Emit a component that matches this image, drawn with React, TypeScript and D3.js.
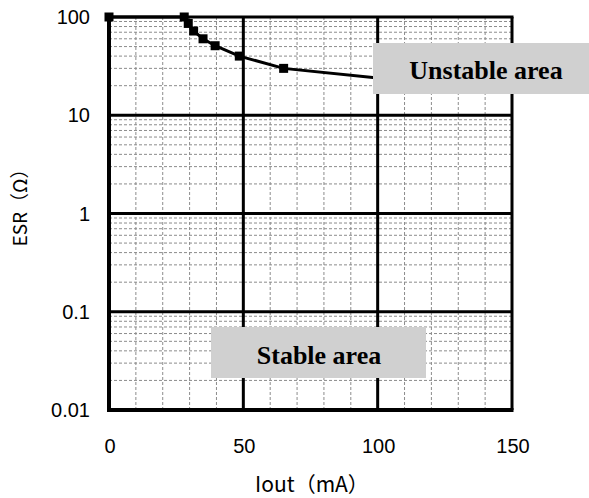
import React from "react";
import * as d3 from "d3";

const iout = [0, 28, 29.5, 31.5, 35, 39.5, 48.5, 65, 100];
const esr = [100, 100, 86, 72, 60, 51, 40, 30, 24];
const xTicks = [0, 50, 100, 150];
const yTicks = [100, 10, 1, 0.1, 0.01];
const yTickLabels = ["100", "10", "1", "0.1", "0.01"];
const xTitle = "Iout（mA）";
const yTitle = "ESR（Ω）";
const unstableLabel = "Unstable area";
const stableLabel = "Stable area";

const W = 589;
const H = 498;
const L = 109, R = 512, T = 17, B = 410;

export default function App() {
  const x = d3.scaleLinear().domain([0, 150]).range([L, R]);
  const y = d3.scaleLog().domain([0.01, 100]).range([B, T]);

  const minorX = d3.range(10, 150, 10).filter((v) => v % 50 !== 0);
  const minorY: number[] = [];
  for (let e = -2; e < 2; e++) {
    for (let k = 2; k <= 9; k++) minorY.push(k * Math.pow(10, e));
  }
  const line = d3
    .line<number>()
    .x((_, i) => x(iout[i]))
    .y((d) => y(d));

  const sans = "'Liberation Sans', Arial, sans-serif";
  const cjk = "'Noto Sans CJK JP', sans-serif";
  const serif = "'Liberation Serif', 'Times New Roman', serif";

  return (
    <svg
      width={W}
      height={H}
      style={{ position: "absolute", left: 0, top: 0, background: "#fff" }}
    >
      <rect x={0} y={0} width={W} height={H} fill="#fff" />
      {/* minor grid */}
      {minorX.map((v) => (
        <line key={"mx" + v} x1={x(v)} x2={x(v)} y1={T} y2={B} stroke="#8c8c8c" strokeWidth={1} strokeDasharray="3 2" />
      ))}
      {minorY.map((v) => (
        <line key={"my" + v} x1={L} x2={R} y1={y(v)} y2={y(v)} stroke="#8c8c8c" strokeWidth={1} strokeDasharray="3 2" />
      ))}
      {/* major grid */}
      {[50, 100].map((v) => (
        <line key={"Mx" + v} x1={x(v)} x2={x(v)} y1={T} y2={B} stroke="#000" strokeWidth={3} />
      ))}
      {[10, 1, 0.1].map((v) => (
        <line key={"My" + v} x1={L} x2={R} y1={y(v)} y2={y(v)} stroke="#000" strokeWidth={3} />
      ))}
      {/* frame */}
      <line x1={L} x2={R + 1.5} y1={T} y2={T} stroke="#000" strokeWidth={3} />
      <line x1={R} x2={R} y1={T} y2={B} stroke="#000" strokeWidth={3} />
      <line x1={L} x2={L} y1={T} y2={B + 2} stroke="#000" strokeWidth={4} />
      <line x1={L - 2} x2={R + 1.5} y1={B} y2={B} stroke="#000" strokeWidth={4} />

      {/* data */}
      <path d={line(esr) || ""} fill="none" stroke="#000" strokeWidth={3} />
      {esr.map((v, i) => (
        <rect key={"p" + i} x={x(iout[i]) - 4.5} y={y(v) - 4.5} width={9} height={9} fill="#000" />
      ))}

      {/* area labels */}
      <rect x={373} y={43} width={216} height={51} fill="#d0d0d0" />
      <text x={486} y={79} textAnchor="middle" fontFamily={serif} fontWeight="bold" fontSize={26} fill="#000">
        {unstableLabel}
      </text>
      <rect x={211} y={327} width={215} height={51} fill="#d0d0d0" />
      <text x={319} y={364} textAnchor="middle" fontFamily={serif} fontWeight="bold" fontSize={26} fill="#000">
        {stableLabel}
      </text>

      {/* tick labels */}
      {yTicks.map((v, i) => (
        <text key={"yt" + i} x={90} y={y(v)} dy="0.35em" textAnchor="end" fontFamily={sans} fontSize={20} fill="#000">
          {yTickLabels[i]}
        </text>
      ))}
      {xTicks.map((v) => (
        <text key={"xt" + v} x={x(v) + 1} y={453} textAnchor="middle" fontFamily={sans} fontSize={20} fill="#000">
          {v}
        </text>
      ))}
      <text x={312} y={492} textAnchor="middle" fontFamily={cjk} fontSize={21} fill="#000">
        {xTitle}
      </text>
      <text
        transform={`translate(27,203) rotate(-90)`}
        textAnchor="middle"
        fontFamily={cjk}
        fontSize={19}
        fill="#000"
      >
        {yTitle}
      </text>
    </svg>
  );
}
